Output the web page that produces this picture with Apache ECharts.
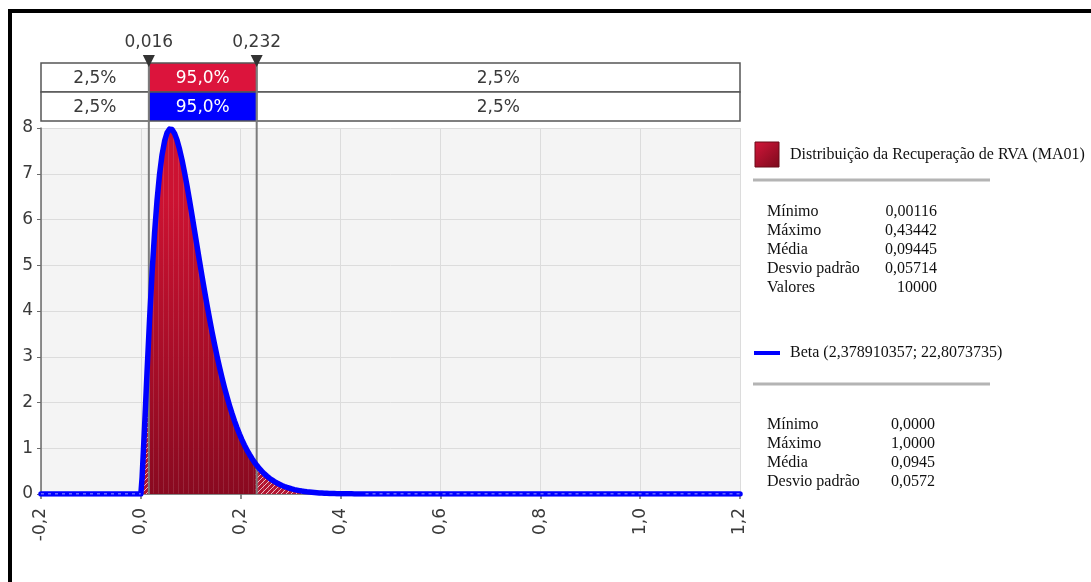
<!DOCTYPE html>
<html>
<head>
<meta charset="utf-8">
<script src="https://cdn.jsdelivr.net/npm/echarts@6/dist/echarts.min.js"></script>
<style>
  html, body { margin: 0; padding: 0; background: #ffffff; }
  #chart { width: 1091px; height: 582px; }
</style>
</head>
<body>
<div id="chart"></div>
<script>
// Histogram of the simulated recovery values (density, bin width 0.005 starting at 0)
const binStart = 0.0;
const binWidth = 0.005;
const histDensity = [
  0.30, 1.42, 2.75, 3.76, 4.90, 5.66, 6.49, 6.95, 7.46, 7.68,
  7.93, 7.95, 7.92, 7.91, 7.69, 7.57, 7.25, 7.06, 6.70, 6.44,
  6.05, 5.79, 5.39, 5.12, 4.73, 4.47, 4.10, 3.86, 3.52, 3.30,
  2.99, 2.79, 2.52, 2.34, 2.10, 1.95, 1.74, 1.61, 1.43, 1.32,
  1.17, 1.08, 0.95, 0.87, 0.76, 0.70, 0.61, 0.56, 0.48, 0.45,
  0.38, 0.35, 0.30, 0.28, 0.23, 0.21, 0.18, 0.17, 0.14, 0.13,
  0.10, 0.10, 0.08, 0.07, 0.06, 0.06, 0.04, 0.04, 0.04, 0.02,
  0.02, 0.02, 0.02, 0.02, 0.02, 0.00, 0.02, 0.00, 0.00, 0.02,
  0.00, 0.00, 0.00, 0.00, 0.00, 0.00, 0.02
];

// Fitted Beta density, sampled at the bin centres
const betaDensity = [
  0.364, 1.484, 2.689, 3.827, 4.843, 5.711, 6.426, 6.992, 7.417, 7.713,
  7.895, 7.976, 7.966, 7.882, 7.734, 7.534, 7.299, 7.027, 6.730, 6.415,
  6.088, 5.756, 5.422, 5.090, 4.762, 4.443, 4.133, 3.834, 3.548, 3.276,
  3.017, 2.772, 2.542, 2.326, 2.124, 1.936, 1.761, 1.599, 1.449, 1.311,
  1.184, 1.068, 0.961, 0.864, 0.775, 0.694, 0.621, 0.554, 0.494, 0.440,
  0.391, 0.347, 0.308, 0.272, 0.241, 0.212, 0.187, 0.164, 0.144, 0.127,
  0.111, 0.097, 0.085, 0.074, 0.064, 0.056, 0.048, 0.042, 0.036, 0.031,
  0.027, 0.023, 0.020, 0.017, 0.015, 0.013, 0.011, 0.009, 0.008, 0.007,
  0.006, 0.005, 0.004, 0.0035, 0.003, 0.0025, 0.002
];
// Flat parts of the fitted curve outside its support
const betaLeftFlat = [[-0.2, 0], [0.0, 0]];
const betaRightFlat = [[0.45, 0], [1.2, 0]];

// Axis ticks
const xTickValues = [-0.2, 0.0, 0.2, 0.4, 0.6, 0.8, 1.0, 1.2];
const xTickLabels = ['-0,2', '0,0', '0,2', '0,4', '0,6', '0,8', '1,0', '1,2'];
const yTickLabels = ['0', '1', '2', '3', '4', '5', '6', '7', '8'];

// 95% interval delimiters and the shares of each region
const markerValues = [0.016, 0.232];
const markerLabels = ['0,016', '0,232'];
const bandShares = ['2,5%', '95,0%', '2,5%'];

// Summary statistics
const histName = 'Distribuição da Recuperação de RVA (MA01)';
const histStatNames = ['Mínimo', 'Máximo', 'Média', 'Desvio padrão', 'Valores'];
const histStatValues = ['0,00116', '0,43442', '0,09445', '0,05714', '10000'];
const betaName = 'Beta (2,378910357; 22,8073735)';
const betaStatNames = ['Mínimo', 'Máximo', 'Média', 'Desvio padrão'];
const betaStatValues = ['0,0000', '1,0000', '0,0945', '0,0572'];

const SANS = 'DejaVu Sans';
const SERIF = 'Liberation Serif';

// Diagonal hatching for bars outside the 95% interval
const hatch = (function () {
  const c = document.createElement('canvas');
  c.width = 5; c.height = 5;
  const g = c.getContext('2d');
  g.fillStyle = '#b3142f';
  g.fillRect(0, 0, 5, 5);
  g.strokeStyle = 'rgba(255,255,255,0.7)';
  g.lineWidth = 1;
  g.beginPath();
  g.moveTo(-1, 6); g.lineTo(6, -1);
  g.moveTo(-1, 1); g.lineTo(1, -1);
  g.moveTo(4, 6); g.lineTo(6, 4);
  g.stroke();
  return c;
})();

const histData = histDensity.map((d, i) => [binStart + i * binWidth, binStart + (i + 1) * binWidth, d]);
const curveData = betaLeftFlat
  .concat(betaDensity.map((d, i) => [binStart + (i + 0.5) * binWidth, d]))
  .concat(betaRightFlat);

const chart = echarts.init(document.getElementById('chart'), null, { renderer: 'canvas' });

chart.setOption({
  animation: false,
  backgroundColor: '#ffffff',
  grid: {
    left: 41, right: 351, top: 128, bottom: 88,
    show: true, backgroundColor: '#f4f4f4', borderWidth: 0
  },
  xAxis: {
    type: 'value', min: -0.2, max: 1.2, interval: 0.2,
    axisLine: { show: true, onZero: false, lineStyle: { color: '#6a6a6a', width: 1.5 } },
    axisTick: { show: true, length: 5, lineStyle: { color: '#6a6a6a', width: 1.5 } },
    splitLine: { show: true, lineStyle: { color: '#dcdcdc', width: 1 } },
    axisLabel: {
      rotate: 90, margin: 14, fontFamily: SANS, fontSize: 17, color: '#3a3a3a',
      formatter: function (v) {
        const k = xTickValues.findIndex(t => Math.abs(t - v) < 1e-6);
        return k >= 0 ? xTickLabels[k] : '';
      }
    }
  },
  yAxis: {
    type: 'value', min: 0, max: 8, interval: 1,
    axisLine: { show: true, onZero: false, lineStyle: { color: '#6a6a6a', width: 1.5 } },
    axisTick: { show: true, length: 4, lineStyle: { color: '#6a6a6a', width: 1 } },
    splitLine: { show: true, lineStyle: { color: '#dcdcdc', width: 1 } },
    axisLabel: {
      margin: 8, fontFamily: SANS, fontSize: 17, color: '#3a3a3a',
      formatter: function (v) { return yTickLabels[Math.round(v)]; }
    }
  },
  series: [
    {
      type: 'custom',
      name: histName,
      data: histData,
      encode: { x: [0, 1], y: 2 },
      z: 2,
      renderItem: function (params, api) {
        const lo = api.value(0), hi = api.value(1), d = api.value(2);
        const p0 = api.coord([lo, d]);
        const p1 = api.coord([hi, 0]);
        const top = api.coord([0, 8])[1];
        const mid = (lo + hi) / 2;
        const inside = mid >= markerValues[0] && mid <= markerValues[1];
        const fill = inside
          ? new echarts.graphic.LinearGradient(p1[0] - 60, p1[1], p1[0] + 30, top + 80, [
              { offset: 0, color: '#85091f' },
              { offset: 1, color: '#cc1232' }
            ], true)
          : { image: hatch, repeat: 'repeat' };
        return {
          type: 'rect',
          shape: { x: p0[0], y: p0[1], width: p1[0] - p0[0] + 0.3, height: p1[1] - p0[1] },
          style: { fill: fill }
        };
      }
    },
    {
      type: 'line',
      name: betaName,
      data: curveData,
      symbol: 'none',
      z: 5,
      lineStyle: { color: '#0000ff', width: 5.5, cap: 'round', join: 'round' }
    },
    {
      type: 'line', data: betaLeftFlat, symbol: 'none', z: 6, silent: true,
      lineStyle: { color: 'rgba(255,255,255,0.8)', width: 1.2, type: [3, 4] }
    },
    {
      type: 'line', data: betaRightFlat, symbol: 'none', z: 6, silent: true,
      lineStyle: { color: 'rgba(255,255,255,0.8)', width: 1.2, type: [3, 4] }
    }
  ]
});

function drawOverlay() {
  const px = v => chart.convertToPixel({ xAxisIndex: 0 }, v);
  const py = v => chart.convertToPixel({ yAxisIndex: 0 }, v);
  const xL = px(-0.2), xR = px(1.2);
  const xA = px(markerValues[0]), xB = px(markerValues[1]);
  const yBase = py(0);
  const rowTop = [63, 92], rowH = 29;
  const mids = ['#dc143c', '#0000ff'];
  const els = [];

  // page frame
  els.push({ type: 'rect', shape: { x: 8, y: 9, width: 1083, height: 4 }, style: { fill: '#000' }, z: 10 });
  els.push({ type: 'rect', shape: { x: 8, y: 9, width: 4, height: 573 }, style: { fill: '#000' }, z: 10 });

  // interval rows
  const edges = [xL, xA, xB, xR];
  rowTop.forEach((y0, r) => {
    for (let c = 0; c < 3; c++) {
      els.push({
        type: 'rect', z: 3,
        shape: { x: edges[c], y: y0, width: edges[c + 1] - edges[c], height: rowH },
        style: { fill: c === 1 ? mids[r] : '#ffffff', stroke: '#555555', lineWidth: 1.5 }
      });
      els.push({
        type: 'text', z: 4,
        x: (edges[c] + edges[c + 1]) / 2, y: y0 + rowH / 2 + 1,
        style: {
          text: bandShares[c], fontFamily: SANS, fontSize: 17,
          fill: c === 1 ? '#ffffff' : '#3a3a3a', align: 'center', verticalAlign: 'middle'
        }
      });
    }
  });

  // delimiter lines, triangles and values
  [xA, xB].forEach((x, k) => {
    els.push({ type: 'line', z: 4, shape: { x1: x, y1: rowTop[0], x2: x, y2: yBase }, style: { stroke: '#7c7c7c', lineWidth: 2 } });
    els.push({ type: 'polygon', z: 4, shape: { points: [[x - 6, 55], [x + 6, 55], [x, 67]] }, style: { fill: '#333333' } });
    els.push({
      type: 'text', z: 4, x: x, y: 43,
      style: { text: markerLabels[k], fontFamily: SANS, fontSize: 17, fill: '#3a3a3a', align: 'center', verticalAlign: 'middle' }
    });
  });

  // histogram legend
  els.push({
    type: 'rect', z: 4, shape: { x: 755, y: 142, width: 24, height: 25 },
    style: {
      fill: new echarts.graphic.LinearGradient(0, 0, 1, 1, [
        { offset: 0, color: '#d4163a' }, { offset: 1, color: '#7a0a1c' }
      ]),
      stroke: '#6a0a18', lineWidth: 1
    }
  });
  const FS = 16;
  els.push({ type: 'text', z: 4, x: 790, y: 155, style: { text: histName, fontFamily: SERIF, fontSize: FS, fill: '#111', verticalAlign: 'middle' } });
  els.push({ type: 'line', z: 4, shape: { x1: 753, y1: 180, x2: 990, y2: 180 }, style: { stroke: '#b4b4b4', lineWidth: 3 } });
  const histRows = [212, 231, 250, 269, 288];
  histStatNames.forEach((n, i) => {
    els.push({ type: 'text', z: 4, x: 767, y: histRows[i], style: { text: n, fontFamily: SERIF, fontSize: FS, fill: '#111', verticalAlign: 'middle' } });
    els.push({ type: 'text', z: 4, x: 937, y: histRows[i], style: { text: histStatValues[i], fontFamily: SERIF, fontSize: FS, fill: '#111', align: 'right', verticalAlign: 'middle' } });
  });

  // fitted-curve legend
  els.push({ type: 'line', z: 4, shape: { x1: 754, y1: 353, x2: 780, y2: 353 }, style: { stroke: '#0000ff', lineWidth: 4 } });
  els.push({ type: 'text', z: 4, x: 790, y: 353, style: { text: betaName, fontFamily: SERIF, fontSize: FS, fill: '#111', verticalAlign: 'middle' } });
  els.push({ type: 'line', z: 4, shape: { x1: 753, y1: 384, x2: 990, y2: 384 }, style: { stroke: '#b4b4b4', lineWidth: 3 } });
  const betaRows = [425, 444, 463, 482];
  betaStatNames.forEach((n, i) => {
    els.push({ type: 'text', z: 4, x: 767, y: betaRows[i], style: { text: n, fontFamily: SERIF, fontSize: FS, fill: '#111', verticalAlign: 'middle' } });
    els.push({ type: 'text', z: 4, x: 935, y: betaRows[i], style: { text: betaStatValues[i], fontFamily: SERIF, fontSize: FS, fill: '#111', align: 'right', verticalAlign: 'middle' } });
  });

  chart.setOption({ graphic: { elements: els } });
}
drawOverlay();
</script>
</body>
</html>
